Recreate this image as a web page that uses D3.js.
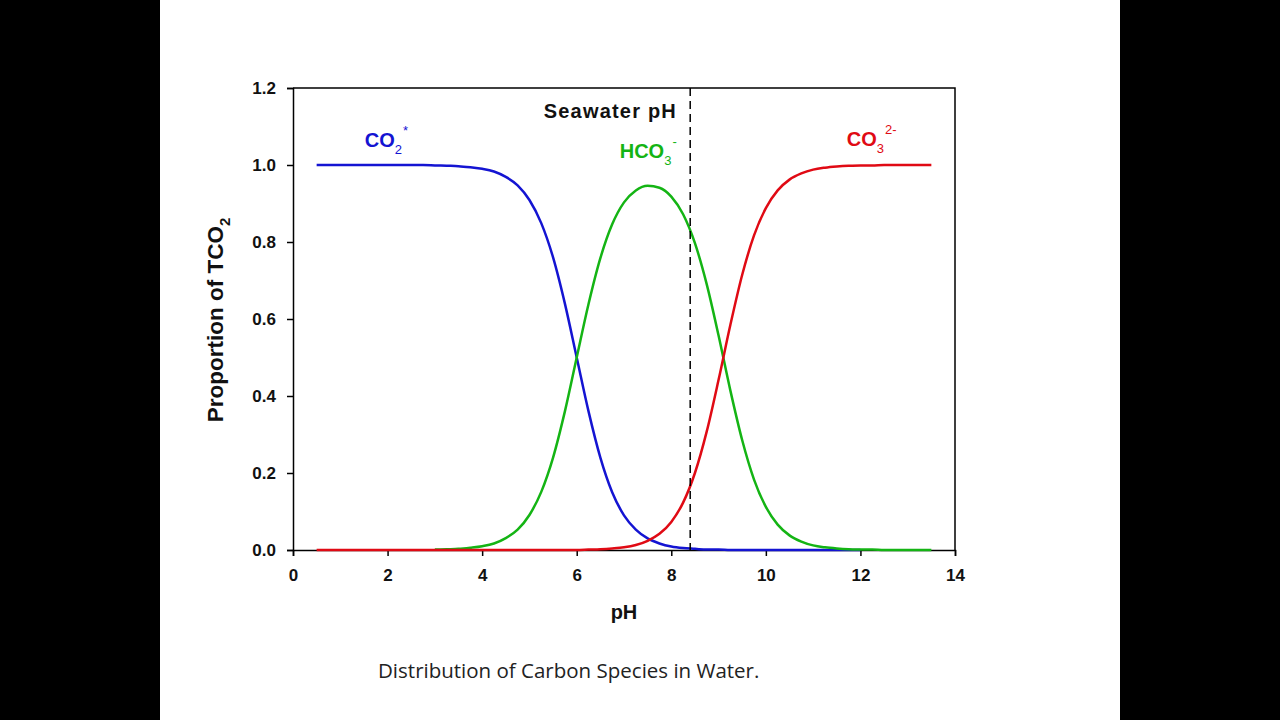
<!DOCTYPE html>
<html>
<head>
<meta charset="utf-8">
<script src="https://cdn.jsdelivr.net/npm/d3@7"></script>
<style>
  html, body { margin: 0; padding: 0; background: #000; overflow: hidden; }
  svg { display: block; }
  text { font-family: "Liberation Sans", Arial, sans-serif; }
</style>
</head>
<body>
<div id="chart"></div>
<script>
// pH values the curves were read at
const pH = [0.5, 0.75, 1, 1.25, 1.5, 1.75, 2, 2.25, 2.5, 2.75, 3, 3.25, 3.5, 3.75,
  4, 4.25, 4.5, 4.75, 5, 5.25, 5.5, 5.75, 6, 6.25, 6.5, 6.75, 7, 7.25, 7.5, 7.75,
  8, 8.25, 8.5, 8.75, 9, 9.25, 9.5, 9.75, 10, 10.25, 10.5, 10.75, 11, 11.25, 11.5,
  11.75, 12, 12.25, 12.5, 12.75, 13, 13.25, 13.5];

// proportion of TCO2 for each species (null = not drawn)
const co2 = [1, 1, 1, 1, 1, 1, 1, 1, 1, 1, 0.999, 0.998, 0.997, 0.994,
  0.99, 0.983, 0.969, 0.947, 0.909, 0.849, 0.76, 0.64, 0.5, 0.36, 0.24, 0.15, 0.09, 0.053, 0.03, 0.017,
  0.009, 0.005, 0.003, 0.001, 0.001, 0, 0, 0, 0, 0, 0, 0, 0, 0, 0,
  0, 0, null, null, null, null, null, null];

const hco3 = [null, null, null, null, null, null, null, null, null, null, 0.001, 0.002, 0.003, 0.006,
  0.01, 0.017, 0.031, 0.053, 0.091, 0.151, 0.24, 0.36, 0.5, 0.639, 0.758, 0.846, 0.903, 0.934, 0.946, 0.941,
  0.918, 0.872, 0.797, 0.69, 0.557, 0.414, 0.285, 0.183, 0.112, 0.066, 0.038, 0.022, 0.012, 0.007, 0.004,
  0.002, 0.001, 0.001, 0, 0, 0, 0, 0];

const co3 = [0, 0, 0, 0, 0, 0, 0, 0, 0, 0, 0, 0, 0, 0,
  0, 0, 0, 0, 0, 0, 0, 0, 0, 0.001, 0.002, 0.004, 0.007, 0.013, 0.024, 0.042,
  0.073, 0.123, 0.2, 0.308, 0.442, 0.585, 0.715, 0.817, 0.888, 0.934, 0.962, 0.978, 0.988, 0.993, 0.996,
  0.998, 0.999, 0.999, 1, 1, 1, 1, 1];

const seawaterPH = 8.4;
const xTicks = [0, 2, 4, 6, 8, 10, 12, 14];
const yTicks = [0, 0.2, 0.4, 0.6, 0.8, 1.0, 1.2];

const width = 1280;
const height = 720;
const margin = { top: 88, right: 325, bottom: 170, left: 293 };
const innerWidth = width - margin.left - margin.right;
const innerHeight = height - margin.top - margin.bottom;

const root = d3.select("#chart")
  .append("svg")
  .attr("width", width)
  .attr("height", height);

// white slide area between the black side bars
root.append("rect")
  .attr("x", 160).attr("y", 0)
  .attr("width", 960).attr("height", height)
  .attr("fill", "#fff");

const svg = root.append("g")
  .attr("transform", `translate(${margin.left},${margin.top})`);

const x = d3.scaleLinear().domain([0, 14]).range([0, innerWidth]);
const y = d3.scaleLinear().domain([0, 1.2]).range([innerHeight, 0]);

// frame on top and right
svg.append("path")
  .attr("d", `M0,0H${innerWidth}V${innerHeight}`)
  .attr("fill", "none")
  .attr("stroke", "#000")
  .attr("stroke-width", 1.5);

// axes
const xAxis = svg.append("g")
  .attr("transform", `translate(0,${innerHeight})`)
  .call(d3.axisBottom(x).tickValues(xTicks).tickSize(6).tickPadding(13).tickFormat(d3.format("d")));

const yAxis = svg.append("g")
  .call(d3.axisLeft(y).tickValues(yTicks).tickSize(6).tickPadding(11).tickFormat(d3.format(".1f")));

[xAxis, yAxis].forEach(g => {
  g.select(".domain").attr("stroke", "#000").attr("stroke-width", 1.5);
  g.selectAll(".tick line").attr("stroke", "#000").attr("stroke-width", 1.5);
  g.selectAll(".tick text")
    .attr("fill", "#111")
    .style("font-size", "17px")
    .style("font-weight", "bold")
    .style("font-family", "'Liberation Sans', Arial, sans-serif");
});

// species curves
const series = [
  { values: co2, color: "#1414d2" },
  { values: hco3, color: "#14b414" },
  { values: co3, color: "#e00a14" }
];

const line = d3.line()
  .defined(d => d[1] !== null)
  .x(d => x(d[0]))
  .y(d => y(d[1]))
  .curve(d3.curveMonotoneX);

series.forEach(s => {
  svg.append("path")
    .datum(pH.map((p, i) => [p, s.values[i]]))
    .attr("fill", "none")
    .attr("stroke", s.color)
    .attr("stroke-width", 2.5)
    .attr("d", line);
});

// seawater pH marker
svg.append("line")
  .attr("x1", x(seawaterPH)).attr("x2", x(seawaterPH))
  .attr("y1", 0).attr("y2", innerHeight)
  .attr("stroke", "#000")
  .attr("stroke-width", 1.5)
  .attr("stroke-dasharray", "8,5");

svg.append("text")
  .attr("x", x(8.12)).attr("y", y(1.122))
  .attr("text-anchor", "end")
  .style("font-size", "20px")
  .style("font-weight", "bold")
  .style("letter-spacing", "1.2px")
  .attr("fill", "#111")
  .text("Seawater pH");

// species labels with sub/superscripts
function speciesLabel(px, py, color, base, sub, sup) {
  const t = svg.append("text")
    .attr("x", x(px)).attr("y", y(py))
    .attr("fill", color)
    .style("font-size", "20px")
    .style("font-weight", "bold");
  t.append("tspan").text(base);
  t.append("tspan").attr("dy", 7).style("font-size", "13px").style("font-weight", "normal").text(sub);
  t.append("tspan").attr("dy", -19).attr("dx", 1).style("font-size", "13px").style("font-weight", "normal").text(sup);
}

speciesLabel(1.52, 1.047, "#1414d2", "CO", "2", "*");
speciesLabel(6.91, 1.018, "#14b414", "HCO", "3", "-");
speciesLabel(11.71, 1.05, "#e00a14", "CO", "3", "2-");

// axis titles
svg.append("text")
  .attr("x", x(7))
  .attr("y", innerHeight + 69)
  .attr("text-anchor", "middle")
  .style("font-size", "20px")
  .style("font-weight", "bold")
  .attr("fill", "#111")
  .text("pH");

const yTitle = svg.append("text")
  .attr("transform", `translate(-70,${innerHeight / 2 + 1}) rotate(-90)`)
  .attr("text-anchor", "middle")
  .style("font-size", "22.5px")
  .style("font-weight", "bold")
  .attr("fill", "#111");
yTitle.append("tspan").text("Proportion of TCO");
yTitle.append("tspan").attr("dy", 7).style("font-size", "15px").text("2");

// slide caption
root.append("text")
  .attr("x", 378).attr("y", 678)
  .style("font-family", "'Open Sans', sans-serif")
  .style("font-size", "20.5px")
  .attr("fill", "#222")
  .text("Distribution of Carbon Species in Water.");
</script>
</body>
</html>
